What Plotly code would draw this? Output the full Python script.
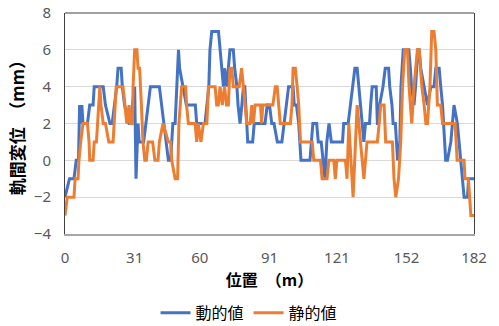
import plotly.graph_objects as go

# 動的値 (dynamic) – position (m) and gauge deviation (mm)
dyn_x = [0, 2, 4, 5, 6, 6.5, 7, 7.5, 8, 10, 11, 12.5, 13, 17, 18, 20, 21, 22, 23, 23.6, 25, 25.5, 26.5, 28.5,
         29, 30, 31, 31.6, 32.5, 33, 35, 36, 37, 38, 42, 43, 44, 45, 46, 47, 48, 49, 50, 50.5, 51, 52.5,
         54, 58, 58.6, 62.3, 63, 64, 64.5, 65.3, 68.3, 69, 70.5, 71, 72, 73.4, 74.9, 75.5, 76.5, 77, 77.9,
         78.7, 79.4, 80, 80.3, 80.9, 81.3, 83.5, 84.2, 86, 89, 90, 91, 92, 93, 94.5, 96.5, 97.5, 98.5,
         99.5, 101.5, 102, 103, 104, 104.5, 105, 109, 109.5, 110.3, 112, 112.7, 114, 115, 115.7, 116.5,
         117.5, 118.5, 123.5, 124, 126, 127, 128, 129, 130, 130.7, 131.3, 132, 133, 133.7, 135.5, 136,
         136.7, 138.5, 139, 139.5, 140, 141.5, 142.5, 144, 144.5, 145.5, 146, 147, 147.5, 148, 149, 149.5,
         150.5, 153, 153.7, 154.2, 155.3, 156, 157, 157.6, 158.3, 159.8, 161.3, 162.8, 164.2, 165, 166.5,
         167.2, 168, 169.4, 170.2, 171.7, 173.1, 174.6, 176.1, 176.9, 177.6, 179.1, 179.6, 182]
dyn_y = [-2, -1, -1, 0, 0, 3, 2, 3, 2, 2, 3, 3, 4, 4, 3, 2, 2, 3, 4, 5, 5, 4, 3, 2,
         2, 3, 4, -1, 2, 1, 1, 2, 3, 4, 4, 3, 2, 1, 0, 0, 2, 2, 5, 6, 5, 4,
         3, 3, 2, 2, 3, 4, 6, 7, 7, 6, 4, 5, 4, 6, 6, 5, 4, 3, 2,
         3, 4, 4, 3, 2, 1, 1, 2, 2, 2, 3, 3, 2, 2, 1, 1, 2, 3,
         4, 4, 3, 3, 2, 1, 0, 0, 1, 2, 2, 1, 1, 0, -1, 1,
         2, 1, 1, 2, 2, 3, 4, 5, 5, 4, 3, 2, 1, 2, 2, 3,
         4, 4, 2, 2, 3, 4, 5, 5, 4, 3, 2, 2, 1, 0, 1, 4,
         6, 6, 5, 4, 3, 4, 6, 6, 5, 4, 3, 4, 4, 5, 5,
         4, 3, 0, 0, 1, 3, 2, 0, -1, -2, -2, -1, -1]

# 静的値 (static)
sta_x = [0, 1, 4, 4.5, 5.8, 6.2, 7, 8, 10, 10.7, 11, 12.5, 13, 14, 14.5, 15, 15.5, 16, 17, 18, 19.5, 21.4,
         21.8, 22.3, 22.8, 25.8, 26.5, 27.5, 28.5, 29, 30, 30.3, 31, 32, 32.5, 33.2, 34, 34.7, 35.5, 36.2,
         37, 39, 40, 41.4, 42, 43.6, 46, 47, 47.5, 49, 50.1, 50.7, 51.9, 53.7, 54.1, 54.9, 57.9, 58.6,
         59.3, 60.5, 61.6, 63.1, 63.5, 63.8, 66.8, 67.5, 68.2, 69, 70, 71, 71.9, 72.7, 73.4, 74.2, 74.9,
         76.4, 77.5, 78.6, 79.4, 80.1, 80.9, 82.4, 83.1, 83.8, 84.6, 87, 87.5, 88, 92.5, 93.6, 94.4, 95.1,
         95.8, 100.3, 101, 101.5, 102.5, 103.3, 104, 104.8, 110, 110.7, 113.7, 114.4, 116.6, 117.4, 119.6,
         120.3, 121, 124.8, 125.5, 126.3, 127.2, 128.2, 130, 131.5, 133, 134.4, 139, 139.8, 140.5, 142,
         142.4, 142.7, 145.7, 146, 146.4, 147.2, 148.4, 149.4, 150.2, 151.2, 152.4, 153.1, 154.3, 155.3,
         156.8, 157.6, 158.8, 159.8, 160.6, 161.3, 162.4, 163.2, 164.2, 165, 165.7, 167.2, 168, 173.6,
         174.5, 177.6, 178, 179.5, 180, 180.6, 182]
sta_y = [-3, -2, -2, -1, -1, 0, 1, 2, 2, 1, 0, 0, 1, 1, 2, 3, 4, 3, 2, 2, 1, 1,
         2, 3, 4, 4, 3, 2, 3, 2, 2, 4, 6, 6, 5, 5, 3, 1, 0, 0,
         1, 1, 0, 0, 1, 2, 1, 1, 0, -1, -1, 2, 4, 4, 3, 2, 2, 1,
         2, 1, 2, 2, 3, 4, 4, 3, 3, 4, 3, 4, 3, 3, 5, 5, 4,
         4, 4, 5, 4, 3, 2, 2, 3, 2, 3, 3, 2, 3, 3, 4, 4, 3,
         2, 2, 3, 5, 5, 4, 3, 1, 1, 0, 0, -1, -1, 0, 0,
         -1, 0, 0, -1, 2, 0, -2, 3, 1, -1, 1, 1, 2, 3, 3,
         2, 1, 1, 0, -1, -2, -1, 1, 4, 6, 6, 4, 2, 4,
         6, 6, 4, 3, 2, 2, 4, 7, 7, 6, 3, 3, 2, 2,
         0, 0, -1, -1, -2, -3, -3]

x_ticks = [0, 31, 60, 91, 121, 152, 182]
y_ticks = [-4, -2, 0, 2, 4, 6, 8]

names = ["動的値", "静的値"]
colors = ["#4472C4", "#ED7D31"]

fig = go.Figure()
fig.add_trace(go.Scatter(x=dyn_x, y=dyn_y, mode="lines", name=names[0],
                         line=dict(color=colors[0], width=3)))
fig.add_trace(go.Scatter(x=sta_x, y=sta_y, mode="lines", name=names[1],
                         line=dict(color=colors[1], width=3)))

font_cjk = "Noto Sans CJK JP"
fig.update_layout(
    width=499, height=326,
    margin=dict(l=65, r=25, t=13, b=92, autoexpand=False),
    paper_bgcolor="white", plot_bgcolor="white",
    font=dict(family="Noto Sans, " + font_cjk, size=15, color="#595959"),
    showlegend=True,
    legend=dict(orientation="h", x=0.45, xanchor="center", y=-0.357, yanchor="middle",
                font=dict(family=font_cjk, size=16, color="#000000"),
                itemwidth=30, tracegroupgap=0),
    xaxis=dict(range=[0, 182], tickvals=x_ticks, ticktext=[str(v) for v in x_ticks],
               showgrid=False, zeroline=False, showline=True, linecolor="#A6A6A6", linewidth=2,
               ticks="", tickfont=dict(size=15, color="#595959"), ticklabelstandoff=9,
               automargin=False,
               title=dict(text="<b>位置　（m）</b>", standoff=8,
                          font=dict(family=font_cjk, size=16, color="#000000"))),
    yaxis=dict(range=[-4, 8], tickvals=y_ticks, showgrid=True, gridcolor="#D9D9D9", gridwidth=1,
               zeroline=False, showline=True, mirror=True, linecolor="#404040", linewidth=1,
               ticks="", tickfont=dict(size=15, color="#595959"), ticklabelstandoff=10,
               automargin=False,
               title=dict(text="<b>軌間変位　（mm）</b>", standoff=4,
                          font=dict(family=font_cjk, size=17, color="#000000"))),
    shapes=[dict(type="line", xref="paper", yref="paper", x0=0, x1=1, y0=1, y1=1,
                 line=dict(color="#404040", width=1))],
)

fig.write_html("out.html", config={"displayModeBar": False},
               post_script="document.body.style.margin='0';document.body.style.overflow='hidden';")
